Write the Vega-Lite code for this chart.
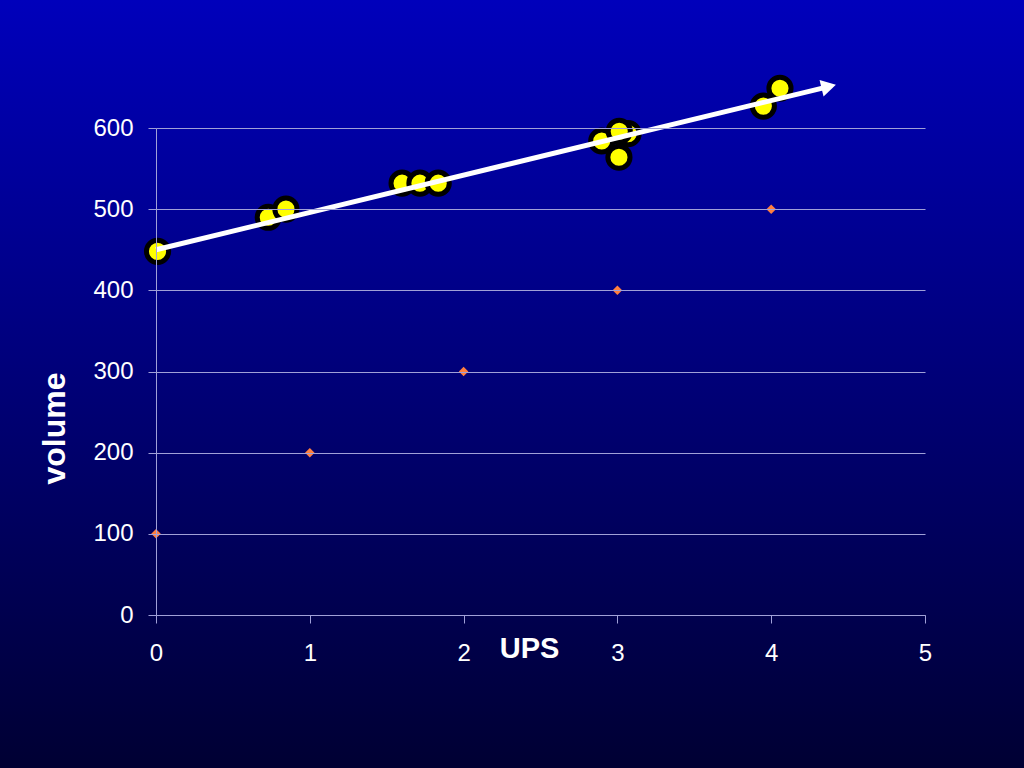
{
  "$schema": "https://vega.github.io/schema/vega-lite/v6.json",
  "width": 769,
  "height": 487,
  "padding": 0,
  "autosize": {"type": "pad"},
  "background": "#000033",
  "config": {"view": {"stroke": null}, "font": "Liberation Sans"},
  "datasets": {
    "bg": [{"part": "background"}],
    "measured": [
      {"ups": 0.01, "volume": 448},
      {"ups": 0.73, "volume": 490},
      {"ups": 0.845, "volume": 500},
      {"ups": 1.60, "volume": 532},
      {"ups": 1.716, "volume": 532},
      {"ups": 1.835, "volume": 532},
      {"ups": 2.898, "volume": 584},
      {"ups": 3.07, "volume": 593},
      {"ups": 3.012, "volume": 596},
      {"ups": 3.01, "volume": 564},
      {"ups": 3.949, "volume": 627},
      {"ups": 4.057, "volume": 649}
    ],
    "reference": [
      {"ups": 0, "volume": 100},
      {"ups": 1, "volume": 200},
      {"ups": 2, "volume": 300},
      {"ups": 3, "volume": 400},
      {"ups": 4, "volume": 500}
    ],
    "trend": [
      {"ups": 0, "volume": 450},
      {"ups": 4.374, "volume": 651}
    ],
    "trendHead": [
      {"ups": 4.374, "volume": 651}
    ]
  },
  "layer": [
    {
      "data": {"name": "bg"},
      "mark": {
        "type": "rect",
        "fill": {
          "gradient": "linear",
          "x1": 0, "y1": 0, "x2": 0, "y2": 1,
          "stops": [
            {"offset": 0, "color": "#0000bb"},
            {"offset": 1, "color": "#000033"}
          ]
        }
      },
      "encoding": {
        "x": {
          "datum": -1.0143,
          "type": "quantitative",
          "scale": {"domain": [0, 5], "nice": false, "zero": false},
          "axis": {
            "title": "UPS",
            "values": [0, 1, 2, 3, 4, 5],
            "format": "d",
            "grid": false,
            "zindex": 1,
            "domainColor": "#a0a0d8",
            "tickColor": "#a0a0d8",
            "tickSize": 8,
            "labelColor": "white",
            "labelFontSize": 24,
            "labelPadding": 18,
            "labelFlush": false,
            "titleColor": "white",
            "titleFontSize": 29,
            "titleFontWeight": "bold",
            "titleX": 373,
            "titleY": 42,
            "titleAlign": "center",
            "titleBaseline": "alphabetic"
          }
        },
        "x2": {"datum": 5.6437},
        "y": {
          "datum": -188.5,
          "type": "quantitative",
          "scale": {"domain": [0, 600], "nice": false, "zero": false},
          "axis": {
            "title": "volume",
            "values": [0, 100, 200, 300, 400, 500, 600],
            "format": "d",
            "grid": true,
            "gridColor": "#a0a0d8",
            "gridWidth": 1,
            "zindex": 1,
            "domainColor": "#a0a0d8",
            "tickColor": "#a0a0d8",
            "tickSize": 8,
            "labelColor": "white",
            "labelFontSize": 24,
            "labelPadding": 15,
            "labelFlush": false,
            "titleColor": "white",
            "titleFontSize": 32,
            "titleFontWeight": "bold",
            "titleAngle": 270,
            "titleX": -92,
            "titleY": 300,
            "titleAlign": "center",
            "titleBaseline": "alphabetic"
          }
        },
        "y2": {"datum": 757.7}
      }
    },
    {
      "data": {"name": "reference"},
      "mark": {"type": "point", "shape": "diamond", "filled": true, "color": "#ff7f3f", "size": 90, "opacity": 1},
      "encoding": {
        "x": {"field": "ups", "type": "quantitative"},
        "y": {"field": "volume", "type": "quantitative"}
      }
    },
    {
      "data": {"name": "measured"},
      "mark": {"type": "circle", "color": "#ffff00", "stroke": "#000000", "strokeWidth": 5, "size": 491, "opacity": 1},
      "encoding": {
        "x": {"field": "ups", "type": "quantitative"},
        "y": {"field": "volume", "type": "quantitative"}
      }
    },
    {
      "data": {"name": "trend"},
      "mark": {"type": "line", "color": "white", "strokeWidth": 5, "strokeCap": "butt"},
      "encoding": {
        "x": {"field": "ups", "type": "quantitative"},
        "y": {"field": "volume", "type": "quantitative"}
      }
    },
    {
      "data": {"name": "trendHead"},
      "mark": {"type": "point", "shape": "triangle-right", "filled": true, "color": "white", "size": 290, "angle": 346.4, "opacity": 1},
      "encoding": {
        "x": {"field": "ups", "type": "quantitative"},
        "y": {"field": "volume", "type": "quantitative"}
      }
    }
  ]
}
